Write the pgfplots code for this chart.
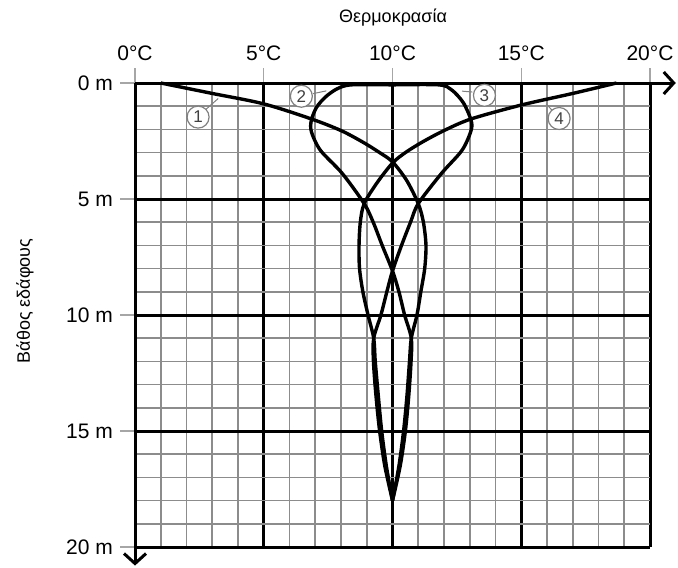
\documentclass[border=0pt]{standalone}
\usepackage{fontspec}
\setmainfont{Liberation Sans}
\usepackage{pgfplots}
\pgfplotsset{compat=1.18}
\usetikzlibrary{arrows.meta}

\begin{document}
\begin{tikzpicture}
\begin{axis}[
    scale only axis,
    width=257.5pt, height=232pt,
    xmin=0, xmax=20, ymin=0, ymax=20,
    y dir=reverse,
    clip=false,
    axis line style={draw=none},
    xtick={0,5,10,15,20},
    xticklabels={0°C,5°C,10°C,15°C,20°C},
    ytick={0,5,10,15,20},
    yticklabels={0 m,5 m,10 m,15 m,20 m},
    minor xtick={0,1,...,20},
    minor ytick={0,1,...,20},
    xtick pos=top, xticklabel pos=top,
    ytick pos=left, yticklabel pos=left,
    tick align=outside,
    major tick length=7.5pt,
    minor tick length=0pt,
    tick style={gray!70, line width=0.6pt},
    tick label style={font=\fontsize{10.5}{12}\selectfont},
    grid=both,
    minor grid style={gray!90, line width=0.8pt},
    major grid style={black, line width=1.5pt},
]
\tikzset{crv/.style={black, line width=1.7pt, smooth, no markers}}
% 1
\addplot[crv] coordinates {(1.0,0) (3.0,0.45) (5.0,0.9) (6.85,1.55) (8.0,2.05) (8.85,2.55) (9.5,3.0) (10.0,3.4) (10.55,4.2) (11.0,5.2) (11.2,6.0) (11.3,7.0) (11.25,8.0) (11.1,9.0) (10.95,10.0) (10.73,11.0) (10.66,12.0) (10.56,13.5) (10.43,15.0) (10.25,16.5) (10.0,18.0)};
% 2
\addplot[crv] coordinates {(10.0,0.08) (8.4,0.08) (7.85,0.25) (7.4,0.6) (7.05,1.05) (6.85,1.6) (6.85,2.1) (7.2,2.9) (8.05,3.9) (8.9,5.2) (9.25,6.0) (9.6,7.0) (10.0,8.1) (10.25,9.0) (10.47,10.0) (10.73,11.0) (10.72,12.0) (10.63,13.5) (10.5,15.0) (10.3,16.5) (10.0,18.0)};
% 3
\addplot[crv] coordinates {(10.0,0.08) (11.8,0.08) (12.3,0.3) (12.75,0.85) (13.05,1.6) (13.05,2.05) (12.7,2.9) (11.9,3.9) (11.0,5.2) (10.7,6.0) (10.35,7.0) (10.0,8.1) (9.78,9.0) (9.55,10.0) (9.27,11.0) (9.26,12.0) (9.36,13.5) (9.5,15.0) (9.7,16.5) (10.0,18.0)};
% 4
\addplot[crv] coordinates {(18.7,0) (17.0,0.45) (15.0,0.95) (13.05,1.55) (12.0,2.05) (11.15,2.55) (10.5,3.0) (10.0,3.45) (9.4,4.3) (8.9,5.2) (8.75,6.0) (8.7,7.0) (8.72,8.0) (8.85,9.0) (9.05,10.0) (9.27,11.0) (9.33,12.0) (9.45,13.5) (9.58,15.0) (9.76,16.5) (10.0,18.0)};

% axis arrows
\draw[line width=1.5pt, -{Straight Barb[length=5pt, width=11pt, line width=1.5pt]}]
    (axis cs:0,0) -- (axis cs:21,0);
\draw[line width=1.5pt, -{Straight Barb[length=5pt, width=11pt, line width=1.5pt]}]
    (axis cs:0,0) -- (axis cs:0,20.8);

% curve labels
\tikzset{lbl/.style={circle, draw=gray, line width=0.6pt, fill=white, inner sep=0pt,
    minimum size=11pt, text=black!75, font=\fontsize{8.5}{10}\selectfont}}
\draw[gray, line width=0.5pt] (axis cs:2.71,1.18) -- (axis cs:3.23,0.67);
\draw[gray, line width=0.5pt] (axis cs:6.91,0.46) -- (axis cs:7.43,0.34);
\draw[gray, line width=0.5pt] (axis cs:13.1,0.39) -- (axis cs:12.7,0.35);
\draw[gray, line width=0.5pt] (axis cs:16.2,1.18) -- (axis cs:15.96,0.89);
\node[lbl] at (axis cs:2.45,1.47) {1};
\node[lbl] at (axis cs:6.46,0.57) {2};
\node[lbl] at (axis cs:13.57,0.53) {3};
\node[lbl] at (axis cs:16.47,1.53) {4};

\coordinate (TL) at (axis cs:0,0);
\end{axis}
\node[anchor=base, font=\fontsize{9}{11}\selectfont] at ([shift={(129pt,30pt)}]TL) {Θερμοκρασία};
\node[rotate=90, font=\fontsize{9}{11}\selectfont] at ([shift={(-55pt,-109pt)}]TL) {Βάθος εδάφους};
\pgfresetboundingbox
\path[use as bounding box] ([shift={(-67.5pt,41.5pt)}]TL) rectangle ([shift={(271.5pt,-242pt)}]TL);
\end{tikzpicture}
\end{document}
